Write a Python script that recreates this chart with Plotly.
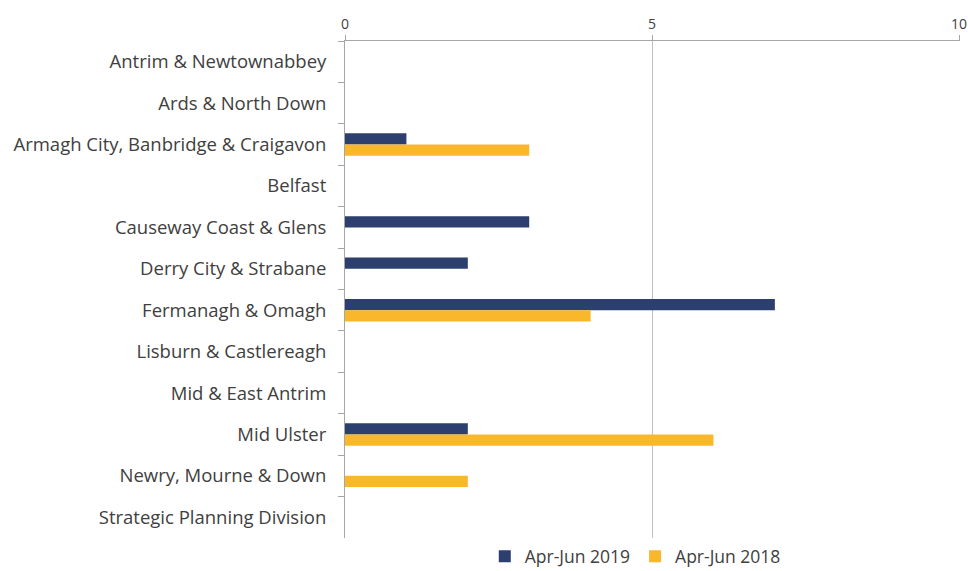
import plotly.graph_objects as go

categories = [
    "Antrim & Newtownabbey",
    "Ards & North Down",
    "Armagh City, Banbridge & Craigavon",
    "Belfast",
    "Causeway Coast & Glens",
    "Derry City & Strabane",
    "Fermanagh & Omagh",
    "Lisburn & Castlereagh",
    "Mid & East Antrim",
    "Mid Ulster",
    "Newry, Mourne & Down",
    "Strategic Planning Division",
]
values_2019 = [0, 0, 1, 0, 3, 2, 7, 0, 0, 2, 0, 0]
values_2018 = [0, 0, 3, 0, 0, 0, 4, 0, 0, 6, 2, 0]
x_ticks = [0, 5, 10]

FONT = "'Open Sans', Lato, sans-serif"

fig = go.Figure()
fig.add_trace(go.Bar(y=categories, x=values_2019, orientation="h", name="Apr-Jun 2019",
                     marker=dict(color="#2C3F6E", line=dict(width=0))))
fig.add_trace(go.Bar(y=categories, x=values_2018, orientation="h", name="Apr-Jun 2018",
                     marker=dict(color="#F9B72B", line=dict(width=0))))

fig.update_layout(
    width=968, height=571,
    margin=dict(l=345, r=8, t=41, b=33, autoexpand=False),
    paper_bgcolor="white", plot_bgcolor="white",
    barmode="group", bargap=0.46, bargroupgap=0,
    font=dict(family=FONT, size=18, color="#404040"),
    showlegend=True,
    legend=dict(orientation="h", x=0.472, xanchor="center", y=-0.037, yanchor="middle",
                font=dict(size=17.5, color="#404040"), traceorder="normal",
                itemwidth=30),
    xaxis=dict(side="top", range=[0, 10.015], tickvals=x_ticks, ticktext=[str(t) for t in x_ticks],
               showgrid=True, gridcolor="#BFBFBF", gridwidth=1, automargin=False,
               showline=True, linecolor="#A6A6A6", linewidth=1,
               ticks="outside", ticklen=5, tickcolor="#A6A6A6", ticklabeloverflow="allow",
               tickfont=dict(size=14, color="#404040"), zeroline=False),
    yaxis=dict(autorange="reversed", showline=True, linecolor="#A6A6A6", linewidth=1,
               ticks="outside", ticklen=6, tickcolor="#A6A6A6", tickson="boundaries",
               automargin=False, ticklabelstandoff=14,
               tickfont=dict(size=18.5, color="#404040"), showgrid=False),
)

fig.write_html("out.html", config={"displayModeBar": False},
               post_script="document.body.style.margin='0';document.body.style.overflow='hidden';")
